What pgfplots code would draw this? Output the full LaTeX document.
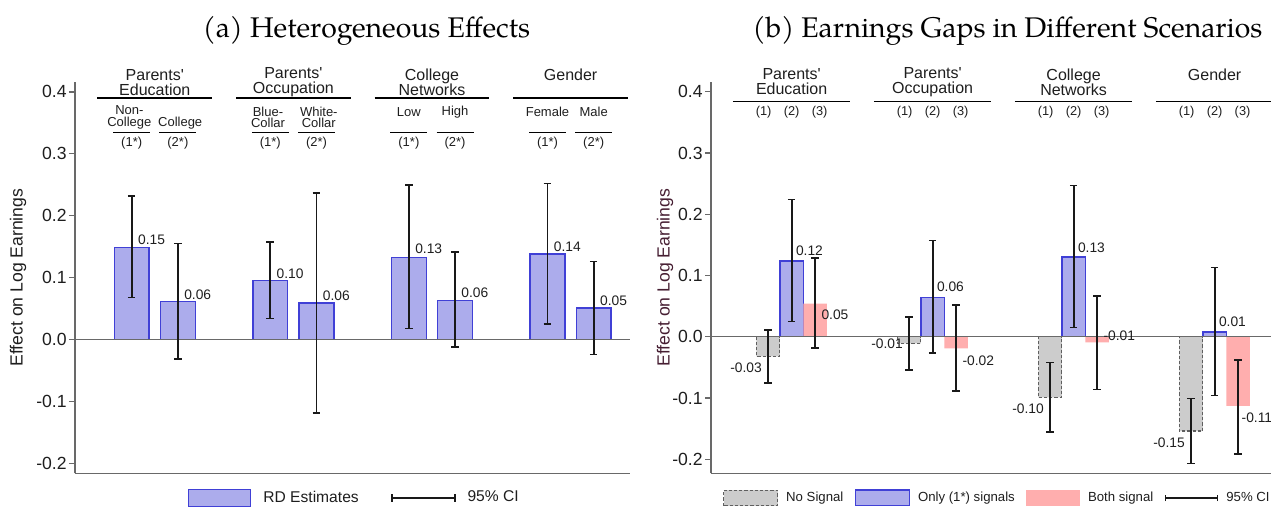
\documentclass[border=0pt]{standalone}
\usepackage{fontspec}
\setmainfont{Liberation Sans}
\newfontfamily\titlefont{texgyrepagella-regular.otf}
\usepackage{pgfplots}
\usepackage{pgfplotstable}
\pgfplotsset{compat=1.18}
\newcommand\sq{\XeTeXglyph\XeTeXcharglyph"0027\relax}

\definecolor{barblue}{RGB}{172,172,236}
\definecolor{edgeblue}{RGB}{64,64,214}
\definecolor{barpink}{RGB}{255,174,174}
\definecolor{bargray}{RGB}{204,204,204}
\definecolor{edgegray}{RGB}{95,95,95}
\definecolor{axgray}{RGB}{105,105,105}
\definecolor{cibl}{RGB}{25,25,25}
\definecolor{txt}{RGB}{30,30,30}
\definecolor{ylabr}{RGB}{70,30,50}

% ---- panel (a) ----
\pgfplotstableread{
x val lo hi
1 0.149 0.068 0.232
2 0.061 -0.032 0.155
4 0.095 0.034 0.157
5 0.059 -0.118 0.237
7 0.133 0.018 0.249
8 0.063 -0.012 0.141
10 0.138 0.025 0.252
11 0.051 -0.024 0.126
}\dataA
\pgfplotstableread{
x y lab
1 0.161 0.15
2 0.073 0.06
4 0.107 0.10
5 0.070 0.06
7 0.146 0.13
8 0.076 0.06
10 0.150 0.14
11 0.063 0.05
}\labA

% ---- panel (b) ----
\pgfplotstableread{
x val lo hi
1 -0.032 -0.075 0.011
7 -0.011 -0.054 0.032
13 -0.099 -0.155 -0.042
19 -0.154 -0.207 -0.101
}\nosig
\pgfplotstableread{
x val lo hi
2 0.124 0.025 0.224
8 0.064 -0.027 0.157
14 0.130 0.015 0.247
20 0.008 -0.096 0.113
}\onlys
\pgfplotstableread{
x val lo hi
3 0.054 -0.019 0.128
9 -0.019 -0.089 0.052
15 -0.009 -0.086 0.066
21 -0.113 -0.191 -0.038
}\boths
\pgfplotstableread{
x y lab
1 -0.051 -0.03
7 -0.012 -0.01
13 -0.117 -0.10
19 -0.173 -0.15
}\labN
\pgfplotstableread{
x y lab
2 0.141 0.12
8 0.081 0.06
14 0.146 0.13
20 0.025 0.01
}\labO
\pgfplotstableread{
x y lab
3 0.036 0.05
9 -0.039 -0.02
15 0.002 -0.01
}\labB
\pgfplotstableread{
x y lab
21 -0.133 -0.11
}\labBlast

\newcommand\lblfont{\fontsize{6.9}{8}\selectfont}
\tikzset{
  hdr/.style={align=center, inner sep=0pt, font=\fontsize{8}{7.5}\selectfont, text=txt},
  sub/.style={align=center, inner sep=0pt, font=\fontsize{6.5}{5.8}\selectfont, text=txt},
  rule/.style={draw=black, line width=0.75pt},
}
\pgfplotsset{
  common/.style={
    scale only axis, height=195.65pt,
    axis x line*=bottom, axis y line*=left,
    x axis line style={-, draw=axgray, line width=0.6pt},
    y axis line style={-, draw=axgray, line width=0.6pt},
    xtick=\empty,
    ytick={-0.2,-0.1,0,0.1,0.2,0.3,0.4},
    y tick label style={font=\fontsize{8.8}{10}\selectfont, text=txt, inner sep=1pt,
      /pgf/number format/fixed, /pgf/number format/fixed zerofill,
      /pgf/number format/precision=1, /pgf/number format/assume math mode=true},
    tick align=outside, major tick length=3pt,
    ytick style={draw=axgray, line width=0.6pt},
    clip=false,
    ylabel={Effect on Log Earnings},
    legend cell align=left,
  },
  cibars/.style={draw=none, mark=none,
    error bars/y dir=both, error bars/y explicit,
    error bars/error bar style={draw=cibl, solid, line width=0.9pt},
    error bars/error mark options={rotate=90, draw=cibl, solid, line width=0.9pt, mark size=1.9pt}},
}

\begin{document}
\begin{tikzpicture}
\useasboundingbox (0,0) rectangle (635.5pt,254.5pt);

\node[font=\titlefont\fontsize{14.2}{16}\selectfont] at (183.25pt,239pt) {(a) Heterogeneous Effects};
\node[font=\titlefont\fontsize{14.2}{16}\selectfont] at (503.75pt,239pt) {(b) Earnings Gaps in Different Scenarios};

% ================= panel (a) =================
\begin{axis}[common,
  at={(37.5pt,17.85pt)}, anchor=south west,
  width=277.5pt,
  xmin=-0.227, xmax=11.786, ymin=-0.216, ymax=0.416,
  ylabel style={at={(axis description cs:-0.1027,0.5)}, anchor=center, font=\fontsize{8.8}{10}\selectfont, text=txt},
  legend columns=2,
  legend style={draw=none, fill=none, inner sep=0pt, outer sep=0pt,
    at={(axis description cs:0.2036,-0.0631)}, anchor=west,
    font=\fontsize{7.8}{9}\selectfont, text=txt,
    nodes={inner sep=0pt},
    /tikz/every odd column/.append style={column sep=6pt},
    /tikz/every even column/.append style={column sep=16pt}},
]
\addplot[ybar, bar width=0.75, bar shift=0pt, fill=barblue, draw=edgeblue, line width=0.7pt,
  legend image code/.code={\draw[fill=barblue, draw=edgeblue, line width=0.7pt] (0pt,-4.25pt) rectangle (31pt,4.25pt);}]
  table[x=x, y=val] \dataA;
\addlegendentry{RD Estimates}
\addplot[forget plot, draw=axgray, line width=0.6pt, mark=none] coordinates {(-0.227,0) (11.786,0)};
\addplot[cibars,
  legend image code/.code={\draw[draw=cibl, line width=0.9pt] (0pt,0pt) -- (31.5pt,0pt) (0pt,-1.8pt) -- (0pt,1.8pt) (31.5pt,-1.8pt) -- (31.5pt,1.8pt);}]
  table[x=x, y=lo, y error plus expr=\thisrow{hi}-\thisrow{lo}, y error minus expr=0] \dataA;
\addlegendentry{95\% CI}
\addplot[forget plot, only marks, mark=none, nodes near coords, point meta=explicit symbolic,
  every node near coord/.append style={anchor=west, xshift=3pt, inner sep=0pt, font=\lblfont, text=txt}]
  table[x=x, y=y, meta=lab] \labA;

% headers
\node[hdr] at (axis cs:1.5,0.4155) {Parents\sq\\Education};
\node[hdr] at (axis cs:4.5,0.4155) {Parents\sq\\Occupation};
\node[hdr] at (axis cs:7.5,0.4155) {College\\Networks};
\node[hdr] at (axis cs:10.5,0.428) {Gender};
\draw[rule] (axis cs:0.26,0.390) -- (axis cs:2.74,0.390);
\draw[rule] (axis cs:3.26,0.390) -- (axis cs:5.74,0.390);
\draw[rule] (axis cs:6.26,0.390) -- (axis cs:8.74,0.390);
\draw[rule] (axis cs:9.26,0.390) -- (axis cs:11.74,0.390);
\node[sub] at (axis cs:0.95,0.359) {Non-\\College};
\node[sub] at (axis cs:2.05,0.350) {College};
\node[sub] at (axis cs:3.95,0.359) {Blue-\\Collar};
\node[sub] at (axis cs:5.05,0.359) {White-\\Collar};
\node[sub] at (axis cs:7,0.368) {Low};
\node[sub] at (axis cs:8,0.368) {High};
\node[sub] at (axis cs:10,0.368) {Female};
\node[sub] at (axis cs:11,0.368) {Male};
\draw[draw=black, line width=0.65pt] (axis cs:0.6,0.335) -- (axis cs:1.4,0.335);
\draw[draw=black, line width=0.65pt] (axis cs:1.6,0.335) -- (axis cs:2.4,0.335);
\draw[draw=black, line width=0.65pt] (axis cs:3.6,0.335) -- (axis cs:4.4,0.335);
\draw[draw=black, line width=0.65pt] (axis cs:4.6,0.335) -- (axis cs:5.4,0.335);
\draw[draw=black, line width=0.65pt] (axis cs:6.6,0.335) -- (axis cs:7.4,0.335);
\draw[draw=black, line width=0.65pt] (axis cs:7.6,0.335) -- (axis cs:8.4,0.335);
\draw[draw=black, line width=0.65pt] (axis cs:9.6,0.335) -- (axis cs:10.4,0.335);
\draw[draw=black, line width=0.65pt] (axis cs:10.6,0.335) -- (axis cs:11.4,0.335);
\node[sub] at (axis cs:1,0.317) {(1*)};
\node[sub] at (axis cs:2,0.317) {(2*)};
\node[sub] at (axis cs:4,0.317) {(1*)};
\node[sub] at (axis cs:5,0.317) {(2*)};
\node[sub] at (axis cs:7,0.317) {(1*)};
\node[sub] at (axis cs:8,0.317) {(2*)};
\node[sub] at (axis cs:10,0.317) {(1*)};
\node[sub] at (axis cs:11,0.317) {(2*)};
\end{axis}

% ================= panel (b) =================
\begin{axis}[common,
  at={(355.5pt,17.85pt)}, anchor=south west,
  width=280pt,
  xmin=-1.43, xmax=22.4, ymin=-0.223, ymax=0.416,
  ylabel style={at={(axis description cs:-0.082,0.5)}, anchor=center, font=\fontsize{8.8}{10}\selectfont, text=ylabr},
  legend columns=4,
  legend style={draw=none, fill=none, inner sep=0pt, outer sep=0pt,
    at={(axis description cs:0.0214,-0.0631)}, anchor=west,
    font=\fontsize{6.6}{8}\selectfont, text=txt,
    nodes={inner sep=0pt},
    /tikz/every odd column/.append style={column sep=4pt},
    /tikz/every even column/.append style={column sep=5.6pt}},
]
\addplot[ybar, bar width=1, bar shift=0pt, fill=bargray, draw=edgegray, line width=0.6pt, dash pattern=on 1.6pt off 1pt,
  legend image code/.code={\draw[fill=bargray, draw=edgegray, line width=0.6pt, dash pattern=on 1.6pt off 1pt] (0pt,-3.9pt) rectangle (27pt,3.9pt);}]
  table[x=x, y=val] \nosig;
\addlegendentry{No Signal}
\addplot[ybar, bar width=1, bar shift=0pt, fill=barblue, draw=edgeblue, line width=0.7pt,
  legend image code/.code={\draw[fill=barblue, draw=edgeblue, line width=0.7pt] (0pt,-3.9pt) rectangle (27pt,3.9pt);}]
  table[x=x, y=val] \onlys;
\addlegendentry{Only (1*) signals}
\addplot[ybar, bar width=1, bar shift=0pt, fill=barpink, draw=none,
  legend image code/.code={\fill[barpink] (0pt,-3.9pt) rectangle (27pt,3.9pt);}]
  table[x=x, y=val] \boths;
\addlegendentry{Both signal}
\addplot[forget plot, draw=axgray, line width=0.6pt, mark=none] coordinates {(-1.43,0) (22.4,0)};
\addplot[cibars, forget plot]
  table[x=x, y=lo, y error plus expr=\thisrow{hi}-\thisrow{lo}, y error minus expr=0] \nosig;
\addplot[cibars, forget plot]
  table[x=x, y=lo, y error plus expr=\thisrow{hi}-\thisrow{lo}, y error minus expr=0] \onlys;
\addplot[cibars,
  legend image code/.code={\draw[draw=cibl, line width=0.9pt] (0pt,0pt) -- (26pt,0pt) (0pt,-1.6pt) -- (0pt,1.6pt) (26pt,-1.6pt) -- (26pt,1.6pt);}]
  table[x=x, y=lo, y error plus expr=\thisrow{hi}-\thisrow{lo}, y error minus expr=0] \boths;
\addlegendentry{95\% CI}
\addplot[forget plot, only marks, mark=none, nodes near coords, point meta=explicit symbolic,
  every node near coord/.append style={anchor=east, xshift=-3pt, inner sep=0pt, font=\lblfont, text=txt}]
  table[x=x, y=y, meta=lab] \labN;
\addplot[forget plot, only marks, mark=none, nodes near coords, point meta=explicit symbolic,
  every node near coord/.append style={anchor=west, xshift=2pt, inner sep=0pt, font=\lblfont, text=txt}]
  table[x=x, y=y, meta=lab] \labO;
\addplot[forget plot, only marks, mark=none, nodes near coords, point meta=explicit symbolic,
  every node near coord/.append style={anchor=west, xshift=3pt, inner sep=0pt, font=\lblfont, text=txt}]
  table[x=x, y=y, meta=lab] \labB;
\addplot[forget plot, only marks, mark=none, nodes near coords, point meta=explicit symbolic,
  every node near coord/.append style={anchor=west, xshift=1.6pt, inner sep=0pt, font=\lblfont, text=txt}]
  table[x=x, y=y, meta=lab] \labBlast;

% headers
\node[hdr] at (axis cs:2,0.416) {Parents\sq\\Education};
\node[hdr] at (axis cs:8,0.416) {Parents\sq\\Occupation};
\node[hdr] at (axis cs:14,0.416) {College\\Networks};
\node[hdr] at (axis cs:20,0.428) {Gender};
\draw[rule] (axis cs:-0.5,0.3845) -- (axis cs:4.5,0.3845);
\draw[rule] (axis cs:5.5,0.3845) -- (axis cs:10.5,0.3845);
\draw[rule] (axis cs:11.5,0.3845) -- (axis cs:16.5,0.3845);
\draw[rule] (axis cs:17.5,0.3845) -- (axis cs:22.5,0.3845);
\node[sub, font=\fontsize{6.4}{7}\selectfont] at (axis cs:0.81,0.367) {(1)};
\node[sub, font=\fontsize{6.4}{7}\selectfont] at (axis cs:2,0.367) {(2)};
\node[sub, font=\fontsize{6.4}{7}\selectfont] at (axis cs:3.19,0.367) {(3)};
\node[sub, font=\fontsize{6.4}{7}\selectfont] at (axis cs:6.81,0.367) {(1)};
\node[sub, font=\fontsize{6.4}{7}\selectfont] at (axis cs:8,0.367) {(2)};
\node[sub, font=\fontsize{6.4}{7}\selectfont] at (axis cs:9.19,0.367) {(3)};
\node[sub, font=\fontsize{6.4}{7}\selectfont] at (axis cs:12.81,0.367) {(1)};
\node[sub, font=\fontsize{6.4}{7}\selectfont] at (axis cs:14,0.367) {(2)};
\node[sub, font=\fontsize{6.4}{7}\selectfont] at (axis cs:15.19,0.367) {(3)};
\node[sub, font=\fontsize{6.4}{7}\selectfont] at (axis cs:18.81,0.367) {(1)};
\node[sub, font=\fontsize{6.4}{7}\selectfont] at (axis cs:20,0.367) {(2)};
\node[sub, font=\fontsize{6.4}{7}\selectfont] at (axis cs:21.19,0.367) {(3)};
\end{axis}
\end{tikzpicture}
\end{document}
